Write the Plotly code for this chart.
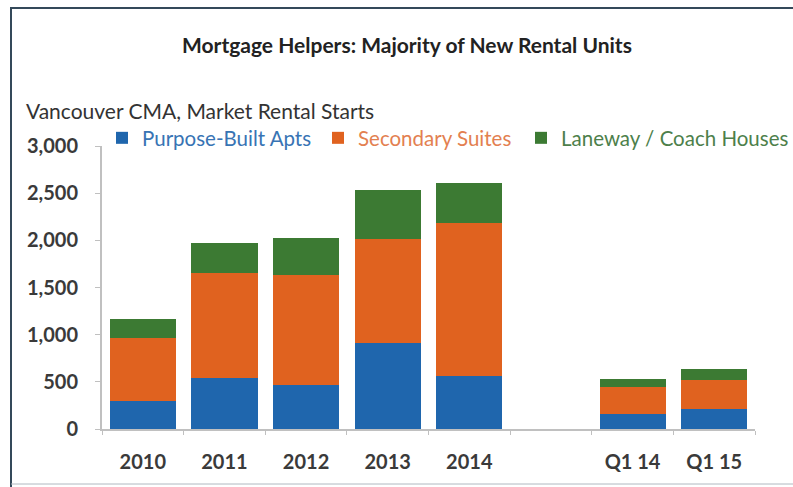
import plotly.graph_objects as go

categories = ["2010", "2011", "2012", "2013", "2014", " ", "Q1 14", "Q1 15"]
purpose_built = [300, 540, 470, 910, 565, None, 155, 210]
secondary_suites = [665, 1115, 1160, 1100, 1620, None, 285, 310]
laneway = [200, 315, 400, 520, 420, None, 90, 115]
y_ticks = [0, 500, 1000, 1500, 2000, 2500, 3000]
y_tick_labels = ["0", "500", "1,000", "1,500", "2,000", "2,500", "3,000"]

BLUE = "#1f66ad"
ORANGE = "#e0621f"
GREEN = "#3c7a33"

W, H = 793, 487
L, R, T, B = 102, 38, 146, 58
pw, ph = W - L - R, H - T - B

def px_x(x):
    return (x - L) / pw

def px_y(y):
    return (H - B - y) / ph

fig = go.Figure()
fig.add_bar(x=categories, y=purpose_built, marker_color=BLUE, legend="legend",
            name="<span style='color:#3874b4'>Purpose-Built Apts</span>")
fig.add_bar(x=categories, y=secondary_suites, marker_color=ORANGE, legend="legend2",
            name="<span style='color:#e38050'>Secondary Suites</span>")
fig.add_bar(x=categories, y=laneway, marker_color=GREEN, legend="legend3",
            name="<span style='color:#4d7f4b'>Laneway / Coach Houses</span>")

fig.update_traces(marker_line_width=0)

leg_common = dict(orientation="h", xanchor="left", yanchor="middle", y=px_y(138),
                  font=dict(size=20.5, family="Lato, sans-serif"), bgcolor="rgba(0,0,0,0)",
                  itemwidth=30)

fig.update_layout(
    width=W, height=H,
    barmode="stack", bargap=0.19,
    margin=dict(l=L, r=R, t=T, b=B, autoexpand=False),
    paper_bgcolor="white", plot_bgcolor="white",
    font=dict(family="Lato, Open Sans, sans-serif", color="#333333"),
    showlegend=True,
    legend=dict(x=px_x(102), **leg_common),
    legend2=dict(x=px_x(318), **leg_common),
    legend3=dict(x=px_x(521), **leg_common),
    xaxis=dict(type="category", categoryorder="array", categoryarray=categories,
               range=[-0.5, 7.5], showline=True, linecolor="#c0c0c0", linewidth=2,
               ticks="outside", tickson="boundaries", ticklen=4, tickcolor="#c0c0c0",
               showgrid=False, automargin=False, ticklabelstandoff=14,
               tickfont=dict(size=20, color="#3a3a3a", weight="bold")),
    yaxis=dict(range=[0, 3000], tickvals=y_ticks, ticktext=y_tick_labels,
               showline=True, linecolor="#c0c0c0", linewidth=2,
               ticks="outside", ticklen=5, tickcolor="#c0c0c0", showgrid=False,
               zeroline=False, automargin=False, ticklabelstandoff=13,
               tickfont=dict(size=20, color="#3a3a3a", weight="bold")),
    annotations=[
        dict(text="<b>Mortgage Helpers: Majority of New Rental Units</b>", xref="paper", yref="paper",
             x=px_x(407), y=px_y(45), xanchor="center", yanchor="middle", showarrow=False,
             font=dict(size=21, color="#222222")),
        dict(text="Vancouver CMA, Market Rental Starts", xref="paper", yref="paper",
             x=px_x(24), y=px_y(110), xanchor="left", yanchor="middle", showarrow=False,
             font=dict(size=21, color="#333333")),
    ],
    shapes=[
        dict(type="line", xref="paper", yref="paper", x0=px_x(10), x1=px_x(793), y0=px_y(8), y1=px_y(8),
             line=dict(color="#34495a", width=2)),
        dict(type="line", xref="paper", yref="paper", x0=px_x(11), x1=px_x(11), y0=px_y(8), y1=px_y(487),
             line=dict(color="#34495a", width=2)),
        dict(type="line", xref="paper", yref="paper", x0=px_x(11), x1=px_x(793), y0=px_y(484), y1=px_y(484),
             line=dict(color="#b0b8c0", width=1)),
    ],
)

fig.write_html("out.html", config={"displayModeBar": False},
               post_script="document.body.style.margin='0';")
